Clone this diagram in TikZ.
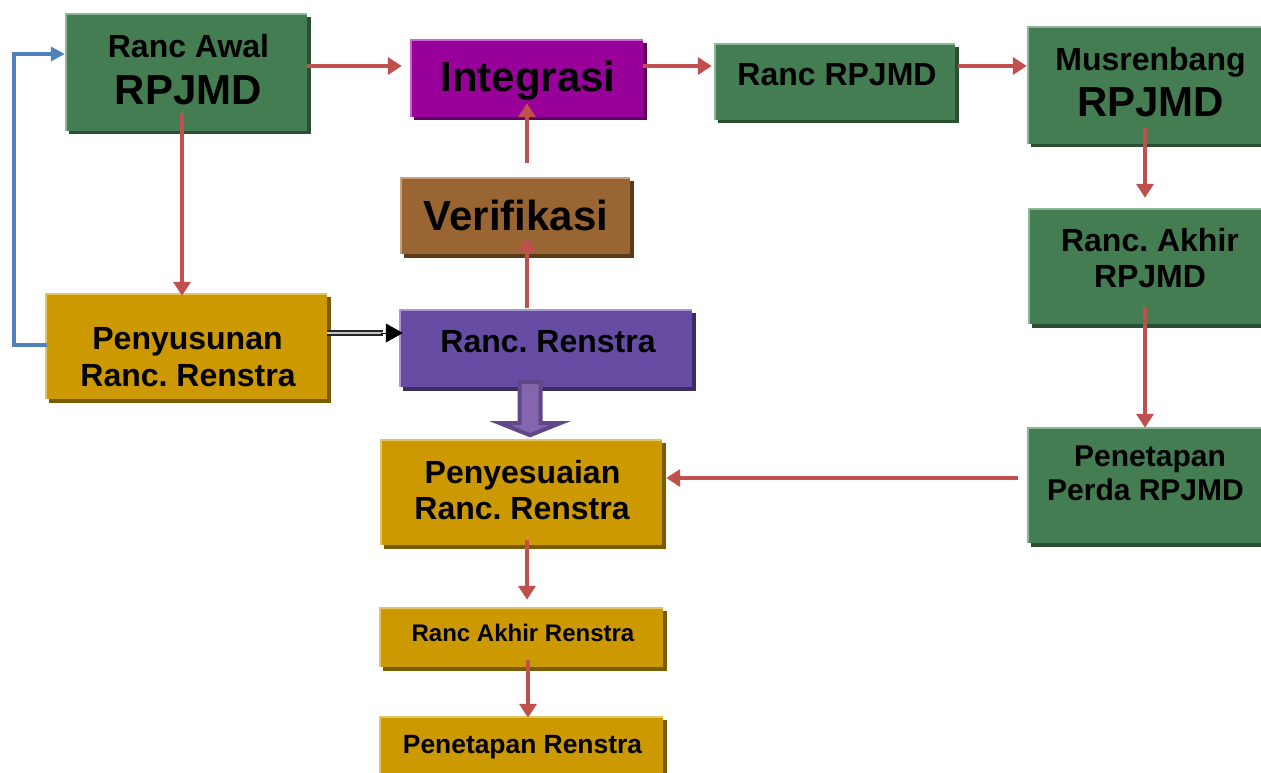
\documentclass[tikz,border=0pt]{standalone}
\usepackage{fontspec}
\setmainfont{Liberation Sans}
\frenchspacing
\usetikzlibrary{arrows.meta,shadows}
\definecolor{gfill}{HTML}{447D52}
\definecolor{gdark}{HTML}{2A4F33}
\definecolor{glight}{HTML}{8DB597}
\definecolor{mfill}{HTML}{990099}
\definecolor{mdark}{HTML}{5E005E}
\definecolor{mlight}{HTML}{CC66CC}
\definecolor{bfill}{HTML}{996633}
\definecolor{bdark}{HTML}{5A3A18}
\definecolor{blight}{HTML}{C8A07A}
\definecolor{pfill}{HTML}{664DA3}
\definecolor{pdark}{HTML}{3B2C66}
\definecolor{plight}{HTML}{A898CF}
\definecolor{ofill}{HTML}{CC9900}
\definecolor{odark}{HTML}{7A5C00}
\definecolor{olight}{HTML}{E3C566}
\definecolor{redarr}{HTML}{C0504D}
\definecolor{bluearr}{HTML}{4F81BD}
\definecolor{blkfill}{HTML}{8466AE}
\definecolor{blkdraw}{HTML}{5F4887}
\tikzset{
  box/.style n args={3}{rectangle, inner sep=0pt, fill=#1,
    general shadow={shadow xshift=3.5pt,shadow yshift=-3.5pt,fill=#2},
    path picture={\draw[#3, line width=3pt] (path picture bounding box.south west) -- (path picture bounding box.north west) -- (path picture bounding box.north east);}},
  gbox/.style={box={gfill}{gdark}{glight}},
  mbox/.style={box={mfill}{mdark}{mlight}},
  bbox/.style={box={bfill}{bdark}{blight}},
  pbox/.style={box={pfill}{pdark}{plight}},
  obox/.style={box={ofill}{odark}{olight}},
  txt/.style={anchor=base, inner sep=0pt, font=\bfseries},
  big/.style={txt, font=\bfseries\fontsize{42}{46}\selectfont},
  mid/.style={txt, font=\bfseries\fontsize{32}{36}\selectfont},
  rarr/.style={draw=redarr, line width=4pt, -{Triangle[width=17pt,length=14pt]}},
  barr/.style={draw=bluearr, line width=4pt, -{Triangle[width=14pt,length=14pt]}},
  dblline/.style={draw=black!85, double=gray!45, double distance=2pt, line width=1.6pt},
  dbltip/.style={draw=black, fill=black, -{Triangle[width=19pt,length=17pt]}, line width=0.5pt},
  blkarr/.style={fill=blkfill, draw=blkdraw, line width=4pt, line join=miter},
}
\begin{document}
\begin{tikzpicture}[x=1pt,y=-1pt]
\useasboundingbox (0,0) rectangle (1261,773);
\clip (0,0) rectangle (1261,773);

% boxes
\node[gbox, minimum width=242, minimum height=117] (awal) at (186,72.5) {};
\node[mbox, minimum width=233, minimum height=77] (integ) at (526.5,78.5) {};
\node[gbox, minimum width=241, minimum height=76] (rancrp) at (834.5,82) {};
\node[gbox, minimum width=238, minimum height=117] (mus) at (1146,85.5) {};
\node[gbox, minimum width=237, minimum height=116] (akhir) at (1146.5,266) {};
\node[gbox, minimum width=238, minimum height=116] (perda) at (1146,485) {};
\node[bbox, minimum width=230, minimum height=77] (verif) at (515,215.5) {};
\node[pbox, minimum width=293, minimum height=78] (rr) at (545.5,348) {};
\node[obox, minimum width=282, minimum height=106] (peny) at (186,346) {};
\node[obox, minimum width=282, minimum height=106] (penyes) at (521,492) {};
\node[obox, minimum width=284, minimum height=60] (rar) at (521,637) {};
\node[obox, minimum width=284, minimum height=60] (pr) at (521,746) {};

% texts
\node[mid] (t1) at (188.5,58) {Ranc Awal};
\node[big] (t2) at (188.5,105) {RPJMD};
\node[big] (t3) at (528,92) {Integrasi};
\node[mid] (t4) at (837,85.5) {Ranc RPJMD};
\node[mid] (t5) at (1150.5,71) {Musrenbang};
\node[big] (t6) at (1150.5,116.7) {RPJMD};
\node[mid] (t7) at (1150,251.5) {Ranc. Akhir};
\node[mid] (t8) at (1150,287.5) {RPJMD};
\node[txt, font=\bfseries\fontsize{30}{34}\selectfont] (t9) at (1150,466.7) {Penetapan};
\node[txt, font=\bfseries\fontsize{30}{34}\selectfont] (t10) at (1145.5,500) {Perda RPJMD};
\node[big] (t11) at (516,230) {Verifikasi};
\node[mid] (t12) at (548,352.7) {Ranc. Renstra};
\node[mid] (t13) at (187.5,349.5) {Penyusunan};
\node[mid] (t14) at (188,386) {Ranc. Renstra};
\node[mid] (t15) at (522.5,483) {Penyesuaian};
\node[mid] (t16) at (522,519) {Ranc. Renstra};
\node[txt, font=\bfseries\fontsize{24}{28}\selectfont] (t17) at (523,641.7) {Ranc Akhir Renstra};
\node[txt, font=\bfseries\fontsize{26.4}{30}\selectfont] (t18) at (522.5,753) {Penetapan Renstra};

% red connectors
\draw[rarr, shorten >=8pt] ([shift={(0,-6.5)}]awal.east) coordinate (p1) -- (p1 -| integ.west);
\draw[rarr, shorten >=2pt] ([shift={(0,-12.5)}]integ.east) coordinate (p2) -- (p2 -| rancrp.west);
\draw[rarr, shorten >=0pt] ([shift={(3,-16)}]rancrp.east) coordinate (p3) -- (p3 -| mus.west);
\draw[rarr, shorten >=10pt] ([shift={(-1,-17)}]mus.south) coordinate (p4) -- (p4 |- akhir.north);
\draw[rarr, shorten >=-1pt] ([shift={(-1.5,-17)}]akhir.south) coordinate (p5) -- (p5 |- perda.north);
\draw[rarr, shorten >=4pt] ([shift={(-9,-7)}]perda.west) coordinate (p6) -- (p6 -| penyes.east);
\draw[rarr, shorten >=-3pt] ([shift={(-4,-18)}]awal.south) coordinate (p7) -- (p7 |- peny.north);
\draw[rarr, shorten >=-17pt] ([shift={(-18.5,-1)}]rr.north) coordinate (p8) -- (p8 |- verif.south);
\draw[rarr, shorten >=-14pt] ([shift={(12,-14)}]verif.north) coordinate (p9) -- (p9 |- integ.south);
\draw[rarr, shorten >=7pt] ([shift={(6,-5)}]penyes.south) coordinate (p10) -- (p10 |- rar.north);
\draw[rarr, shorten >=-2pt] ([shift={(7,-7)}]rar.south) coordinate (p11) -- (p11 |- pr.north);

% blue feedback connector
\draw[barr, line join=miter] ([shift={(2,-1)}]peny.west) -- ++(-33,0) |- ([shift={(0,-18.5)}]awal.west);

% double black connector
\draw[dblline] ([shift={(0,-13)}]peny.east) coordinate (q1) -- ([shift={(-16,0)}]q1 -| rr.west) coordinate (q2);
\draw[dbltip] ([shift={(-2,0)}]q2) -- ([shift={(4,0)}]q1 -| rr.west);

% block arrow
\coordinate (ba) at ([shift={(-15.5,0)}]rr.south);
\draw[blkarr] (ba) ++(-10.5,-5) -- ++(21,0) -- ++(0,41) -- ++(19.5,0) -- ++(-30,12) -- ++(-30,-12) -- ++(19.5,0) -- cycle;
\end{tikzpicture}
\end{document}
